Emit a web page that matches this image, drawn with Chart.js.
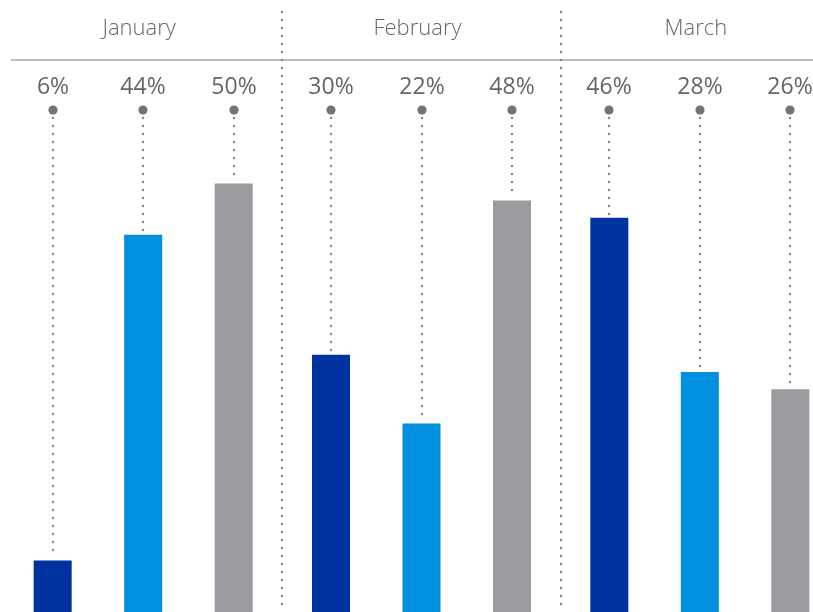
<!DOCTYPE html>
<html>
<head>
<meta charset="utf-8">
<script src="https://cdn.jsdelivr.net/npm/chart.js@4.4.1/dist/chart.umd.min.js"></script>
<style>
  html, body { margin: 0; padding: 0; overflow: hidden; background: #fff; }
  #wrap { width: 843px; height: 612px; }
</style>
</head>
<body>
<div id="wrap"><canvas id="chart"></canvas></div>
<script>
const months = ['January', 'February', 'March'];
const seriesA = [6, 30, 46];
const seriesB = [44, 22, 28];
const seriesC = [50, 48, 26];

const FONT = "'Open Sans', 'Noto Sans', sans-serif";

function dotted(ctx, x1, y1, x2, y2) {
  ctx.save();
  ctx.strokeStyle = '#858585';
  ctx.lineWidth = 2.4;
  ctx.lineCap = 'round';
  ctx.setLineDash([0, 8]);
  ctx.beginPath();
  ctx.moveTo(x1, y1);
  ctx.lineTo(x2, y2);
  ctx.stroke();
  ctx.restore();
}

const decor = {
  id: 'decor',
  beforeDatasetsDraw(chart) {
    const ctx = chart.ctx;
    const x = chart.scales.x;
    const top = chart.chartArea.top;
    // header rule
    ctx.save();
    ctx.strokeStyle = '#bdbdbd';
    ctx.lineWidth = 2;
    ctx.beginPath();
    ctx.moveTo(11, top);
    ctx.lineTo(chart.width, top);
    ctx.stroke();
    ctx.restore();
    // group separators
    for (let i = 0; i < months.length - 1; i++) {
      const sx = Math.round((x.getPixelForValue(i) + x.getPixelForValue(i + 1)) / 2);
      dotted(ctx, sx, 12, sx, chart.height);
    }
  },
  afterDatasetsDraw(chart) {
    const ctx = chart.ctx;
    const top = chart.chartArea.top;
    chart.data.datasets.forEach((ds, di) => {
      const meta = chart.getDatasetMeta(di);
      meta.data.forEach((bar, i) => {
        const bx = Math.round(bar.x);
        dotted(ctx, bx, top + 58, bx, bar.y - 3);
        ctx.save();
        ctx.fillStyle = '#737373';
        ctx.beginPath();
        ctx.arc(bx, top + 50, 4.6, 0, Math.PI * 2);
        ctx.fill();
        ctx.fillStyle = '#666666';
        ctx.font = '400 23px ' + FONT;
        ctx.textAlign = 'center';
        ctx.textBaseline = 'middle';
        ctx.fillText(ds.data[i] + '%', bx, top + 27);
        ctx.restore();
      });
    });
  }
};

new Chart(document.getElementById('chart'), {
  type: 'bar',
  data: {
    labels: months,
    datasets: [
      { label: 'Series 1', data: seriesA, backgroundColor: '#0033a0' },
      { label: 'Series 2', data: seriesB, backgroundColor: '#0090df' },
      { label: 'Series 3', data: seriesC, backgroundColor: '#9b9b9f' }
    ]
  },
  options: {
    responsive: true,
    maintainAspectRatio: false,
    animation: false,
    events: [],
    layout: { padding: { left: 4, right: 4, top: 0, bottom: 0 } },
    datasets: {
      bar: { categoryPercentage: 0.9755, barPercentage: 0.42 }
    },
    plugins: {
      legend: { display: false },
      tooltip: { enabled: false }
    },
    scales: {
      x: {
        position: 'top',
        grid: { display: false, drawTicks: false },
        border: { display: false },
        ticks: {
          color: '#666666',
          padding: 18,
          labelOffset: -4,
          font: { family: FONT, size: 22, weight: 300 }
        },
        afterFit(scale) { scale.height = 60; }
      },
      y: {
        display: false,
        min: 0,
        max: 64.4
      }
    }
  },
  plugins: [decor]
});
</script>
</body>
</html>
